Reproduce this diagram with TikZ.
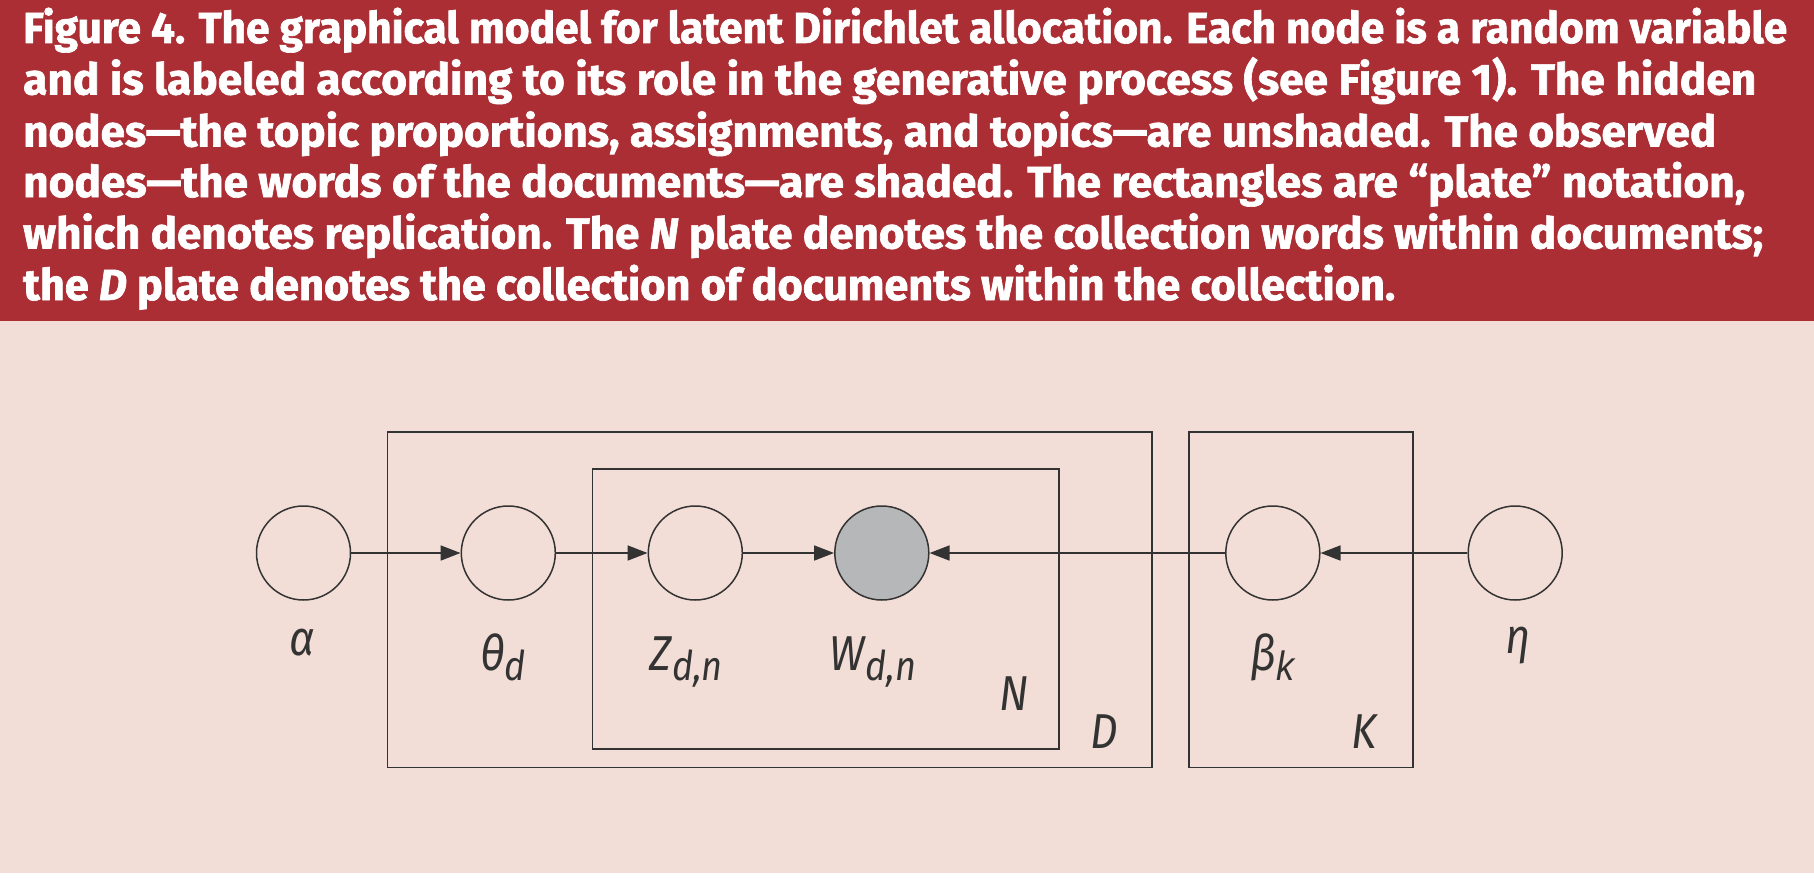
\documentclass[tikz,border=0pt]{standalone}
\usepackage{fontspec}
\setmainfont{Fira Sans}
\newfontfamily\capfont[BoldFeatures={FakeBold=1.5},BoldItalicFeatures={FakeBold=1.5}]{Fira Sans}
\newfontfamily\kfont{Liberation Sans}
\usetikzlibrary{arrows.meta}
\definecolor{bandred}{HTML}{AB2E35}
\definecolor{beige}{HTML}{F2DED6}
\definecolor{wgray}{HTML}{B5B7B9}
\definecolor{ink}{HTML}{333333}
\newcommand{\capline}[2]{\resizebox{#1}{\height}{#2}}
\newcommand{\sbs}[1]{\raisebox{-10pt}{\fontsize{41}{41}\selectfont #1}}
\newcommand{\lbltext}[1]{\scalebox{0.88}[1]{#1}}
\begin{document}
\begin{tikzpicture}[x=1pt,y=-1pt,
  var/.style={circle, draw=ink, line width=1.5pt, minimum size=94pt, inner sep=0pt, fill=beige},
  obs/.style={var, fill=wgray},
  plate/.style={draw=ink, line width=1.6pt},
  edge/.style={draw=ink, line width=1.7pt, -{Triangle[length=20pt,width=15pt]}},
  lbl/.style={anchor=base west, inner sep=0pt, text=ink, font=\itshape\fontsize{49}{52}\selectfont},
  capl/.style={anchor=base west, inner sep=0pt, text=white, font=\capfont\bfseries\fontsize{43.5}{50}\selectfont}]
\useasboundingbox (0,0) rectangle (1814,880);
\fill[white] (0,0) rectangle (1814,880);
\fill[bandred] (0,0) rectangle (1814,320.7);
\fill[beige] (0,320.7) rectangle (1814,872.7);

% caption
\node[capl] (c1) at (23,43) {\capline{1764pt}{Figure 4. The graphical model for latent Dirichlet allocation. Each node is a random variable}};
\node[capl] (c2) at (23,94.5) {\capline{1733pt}{and is labeled according to its role in the generative process (see Figure 1). The hidden}};
\node[capl] (c3) at (23,146.5) {\capline{1693pt}{nodes—the topic proportions, assignments, and topics—are unshaded. The observed}};
\node[capl] (c4) at (23,197) {\capline{1722pt}{nodes—the words of the documents—are shaded. The rectangles are “plate” notation,}};
\node[capl] (c5) at (23,248.5) {\capline{1740pt}{which denotes replication. The \textit{N} plate denotes the collection words within documents;}};
\node[capl] (c6) at (23,300) {\capline{1372pt}{the \textit{D} plate denotes the collection of documents within the collection.}};

% plates
\draw[plate] (387.5,431.7) rectangle (1152,767.5);
\draw[plate] (592.5,469) rectangle (1058.8,749);
\draw[plate] (1188.8,431.7) rectangle (1413,767.5);

% variables
\node[var] (alpha) at (303.5,553) {};
\node[var] (theta) at (508.3,553) {};
\node[var] (z) at (695.3,553) {};
\node[obs] (w) at (881.8,553) {};
\node[var] (beta) at (1272.8,553) {};
\node[var] (eta) at (1515.2,553) {};

% edges
\draw[edge] (alpha) -- (theta);
\draw[edge] (theta) -- (z);
\draw[edge] (z) -- (w);
\draw[edge] (beta) -- (w);
\draw[edge] (eta) -- (beta);

% labels
\node[lbl] (la) at (289,655) {\lbltext{α}};
\node[lbl] (lt) at (480,670) {\lbltext{θ\sbs{d}}};
\node[lbl] (lz) at (649.6,670) {\lbltext{Z\sbs{d,n}}};
\node[lbl] (lw) at (829.6,670) {\lbltext{W\sbs{d,n}}};
\node[lbl] (lb) at (1250,670) {\lbltext{β\sbs{\kfont\itshape k}}};
\node[lbl] (le) at (1505,653) {\lbltext{η}};
\node[lbl] (lN) at (999,710) {\lbltext{N}};
\node[lbl] (lD) at (1090,748) {\lbltext{D}};
\node[lbl] (lK) at (1351,748) {\lbltext{K}};
\end{tikzpicture}
\end{document}
